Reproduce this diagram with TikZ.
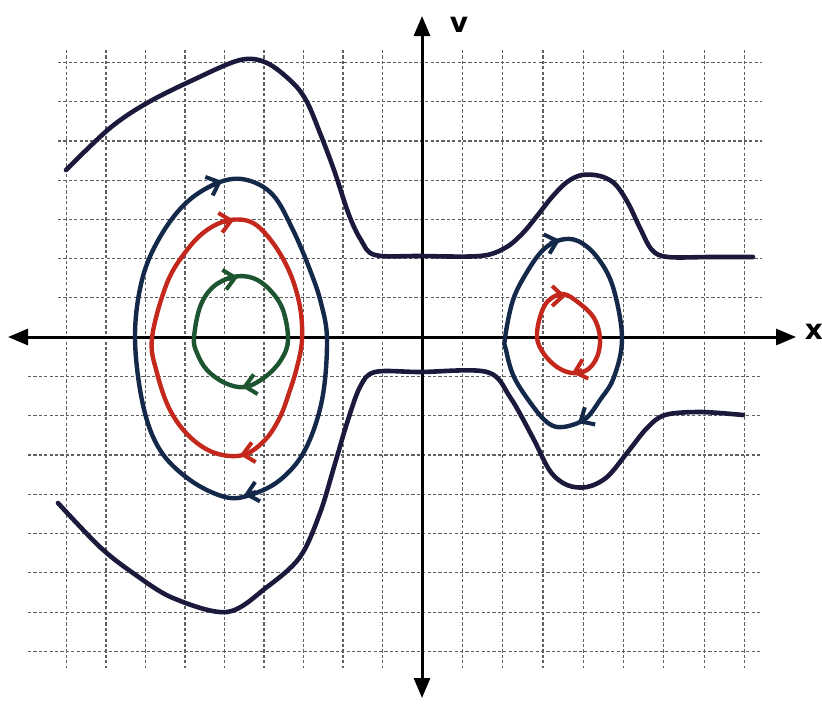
\documentclass[tikz,border=0pt]{standalone}
\usepackage{fontspec}
\setsansfont{DejaVu Sans}
\usetikzlibrary{arrows.meta}
\definecolor{navy}{HTML}{1C1A3C}
\definecolor{orbblue}{HTML}{14284A}
\definecolor{orbred}{HTML}{C4281C}
\definecolor{orbgreen}{HTML}{1D5530}
\definecolor{gridc}{HTML}{606060}
\begin{document}
\begin{tikzpicture}[x=0.5pt,y=-0.5pt,
  gridline/.style={gridc, line width=0.6pt, dash pattern=on 1.6pt off 1.1pt},
  axisline/.style={black, line width=1.5pt},
  sep/.style={navy, line width=2.3pt, line cap=round, line join=round},
  orbit/.style={line width=2.2pt, line cap=round, line join=round},
  chev/.style={line width=2pt, -{Straight Barb[length=5.5pt,width=10pt]}},
  lab/.style={font=\sffamily\bfseries\fontsize{14}{14}\selectfont, inner sep=0pt}]
\useasboundingbox (0,0) rectangle (822,703);
\fill[white] (0,0) rectangle (822,703);
% grid
\foreach \k in {1,...,9} \draw[gridline] ({422-39.5*\k},50) -- ({422-39.5*\k},668);
\foreach \k in {1,...,8} \draw[gridline] ({422+40.3*\k},50) -- ({422+40.3*\k},668);
\foreach \k in {1,...,7} \draw[gridline] (58,{337-39.2*\k}) -- (762,{337-39.2*\k});
\foreach \k in {1,...,8} \draw[gridline] (28,{337+39.3*\k}) -- (762,{337+39.3*\k});
% axes
\coordinate (xl) at (8,337);
\coordinate (xr) at (796,337);
\coordinate (vt) at (422,16);
\coordinate (vb) at (422,698);
\draw[axisline, {Triangle[length=10pt,width=8pt]}-{Triangle[length=10pt,width=8pt]}] (xl) -- (xr);
\draw[axisline, {Triangle[length=10pt,width=8pt]}-{Triangle[length=10pt,width=8pt]}] (vb) -- (vt);
\node[lab] (vlab) at (459,25) {v};
\node[lab] (xlab) at (814,332) {x};
% upper separatrix
\draw[sep] plot[smooth, tension=0.55] coordinates {(66,170) (110,128) (147,103) (193,80) (240,60) (267,63) (293,83) (307,102) (320,133) (334,170) (349,215) (361,240) (375,255) (420,256) (480,256) (505,248) (522,234) (537,216) (552,197) (567,182) (582,175) (600,176) (615,184) (628,203) (640,228) (652,250) (668,257) (710,257) (753,257)};
% lower separatrix
\draw[sep] plot[smooth, tension=0.55] coordinates {(58,503) (100,547) (133,573) (173,598) (227,612) (267,587) (300,557) (320,513) (334,467) (347,423) (360,387) (375,372) (420,372) (487,372) (510,397) (533,438) (550,471) (567,485) (587,487) (607,477) (627,453) (647,428) (665,415) (700,412) (743,415)};
% left orbits
\draw[orbit, orbblue] plot[smooth cycle, tension=0.6] coordinates {(135,338) (142,280) (160,237) (187,202) (220,182) (247,180) (273,195) (293,230) (310,270) (321,303) (327,340) (322,400) (305,450) (280,480) (250,495) (225,497) (190,480) (160,450) (143,405)};
\draw[orbit, orbred] plot[smooth cycle, tension=0.6] coordinates {(152,338) (167,283) (187,250) (207,230) (230,220) (253,223) (273,243) (290,273) (300,307) (302,340) (297,367) (290,390) (280,417) (265,440) (243,455) (215,453) (190,437) (170,410) (157,373)};
\draw[orbit, orbgreen] plot[smooth cycle, tension=0.6] coordinates {(194,338) (200,307) (213,287) (233,277) (253,278) (270,290) (283,310) (288,340) (281,360) (265,377) (245,387) (225,383) (207,370) (197,353)};
% right orbits
\draw[orbit, orbblue] plot[smooth cycle, tension=0.6] coordinates {(505,338) (513,300) (527,272) (543,250) (560,240) (578,241) (597,257) (613,287) (622,338) (614,377) (600,400) (585,419) (563,427) (548,423) (532,405) (514,377) (506,350)};
\draw[orbit, orbred] plot[smooth cycle, tension=0.6] coordinates {(537,338) (540,317) (548,301) (563,294) (579,303) (594,318) (600,338) (597,357) (587,370) (572,373) (557,367) (544,354)};
% chevrons
\draw[chev, orbblue] (212,185) -- (222,181);
\draw[chev, orbblue] (256,492) -- (244,495);
\draw[chev, orbred] (224,222) -- (234,220);
\draw[chev, orbred] (250,453) -- (240,455);
\draw[chev, orbgreen] (228,279) -- (238,277);
\draw[chev, orbgreen] (252,385) -- (242,387);
\draw[chev, orbblue] (550,243) -- (560,240);
\draw[chev, orbblue] (588,417) -- (578,423);
\draw[chev, orbred] (557,296) -- (566,296);
\draw[chev, orbred] (582,370) -- (572,373);
\end{tikzpicture}
\end{document}
